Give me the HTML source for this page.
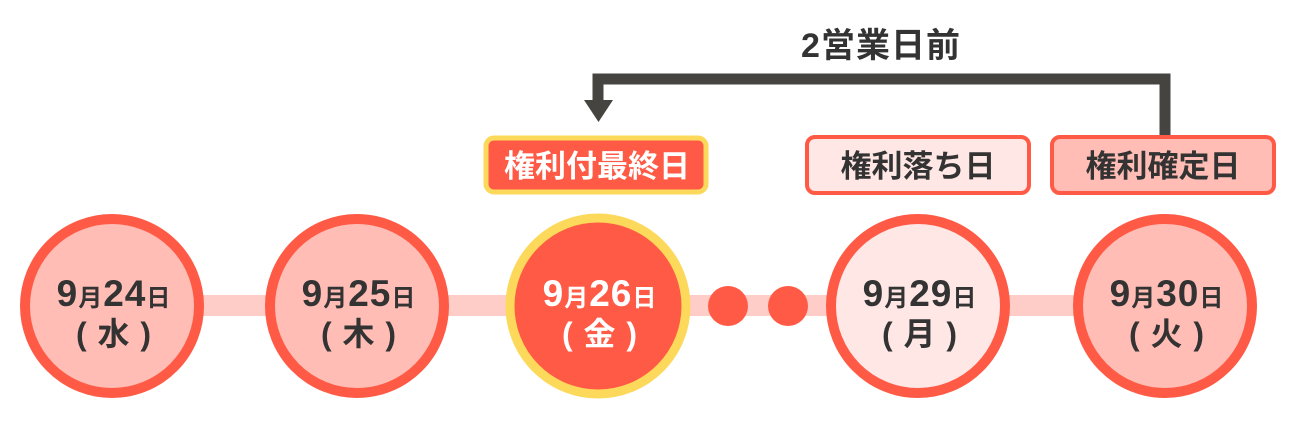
<!DOCTYPE html>
<html><head><meta charset="utf-8"><style>
html,body{margin:0;padding:0;background:#fff;}
svg{display:block;}
text{font-family:"Liberation Sans","Noto Sans CJK JP",sans-serif;font-weight:bold;}
</style></head><body>
<svg width="1294" height="428" viewBox="0 0 1294 428" xmlns="http://www.w3.org/2000/svg">
<rect x="112" y="295" width="1053" height="21" fill="#ffcdc8"/>
<polyline points="1165,137 1165,79 598,79 598,104" fill="none" stroke="#464440" stroke-width="11" stroke-linejoin="miter"/>
<polygon points="584,100 613,100 598.5,122" fill="#464440"/>
<text x="881" y="57" font-size="34" fill="#333" text-anchor="middle" letter-spacing="1">2営業日前</text>
<rect x="486" y="138" width="220" height="54" rx="8" fill="#ff5a45" stroke="#fcd95a" stroke-width="5"/>
<text x="597" y="177" font-size="31" fill="#fff" text-anchor="middle">権利付最終日</text>
<rect x="807" y="137" width="222" height="56" rx="8" fill="#ffe7e5" stroke="#ff5a45" stroke-width="4"/>
<text x="918" y="177" font-size="31" fill="#333" text-anchor="middle">権利落ち日</text>
<rect x="1052" y="137" width="222" height="56" rx="8" fill="#ffbdb5" stroke="#ff5a45" stroke-width="4"/>
<text x="1163" y="177" font-size="31" fill="#333" text-anchor="middle">権利確定日</text>
<circle cx="728" cy="306" r="20" fill="#ff5a45"/>
<circle cx="788" cy="306" r="20" fill="#ff5a45"/>
<circle cx="112" cy="306" r="87" fill="#ffbdb5" stroke="#ff5a45" stroke-width="10"/>
<circle cx="357" cy="306" r="87" fill="#ffbdb5" stroke="#ff5a45" stroke-width="10"/>
<circle cx="598" cy="306" r="88" fill="#ff5a45" stroke="#fcd95a" stroke-width="9"/>
<circle cx="918" cy="306" r="87" fill="#ffe7e5" stroke="#ff5a45" stroke-width="10"/>
<circle cx="1165" cy="306" r="87" fill="#ffbdb5" stroke="#ff5a45" stroke-width="10"/>
<g font-size="37" text-anchor="middle" fill="#333" letter-spacing="1">
<text x="114" y="306">9<tspan font-size="24">月</tspan>24<tspan font-size="24">日</tspan></text>
<text x="114" y="345" font-size="32">( 水 )</text>
<text x="359" y="306">9<tspan font-size="24">月</tspan>25<tspan font-size="24">日</tspan></text>
<text x="359" y="345" font-size="32">( 木 )</text>
<text x="600" y="306" fill="#fff">9<tspan font-size="24">月</tspan>26<tspan font-size="24">日</tspan></text>
<text x="600" y="345" font-size="32" fill="#fff">( 金 )</text>
<text x="920" y="306">9<tspan font-size="24">月</tspan>29<tspan font-size="24">日</tspan></text>
<text x="920" y="345" font-size="32">( 月 )</text>
<text x="1167" y="306">9<tspan font-size="24">月</tspan>30<tspan font-size="24">日</tspan></text>
<text x="1167" y="345" font-size="32">( 火 )</text>
</g>
</svg>
</body></html>
